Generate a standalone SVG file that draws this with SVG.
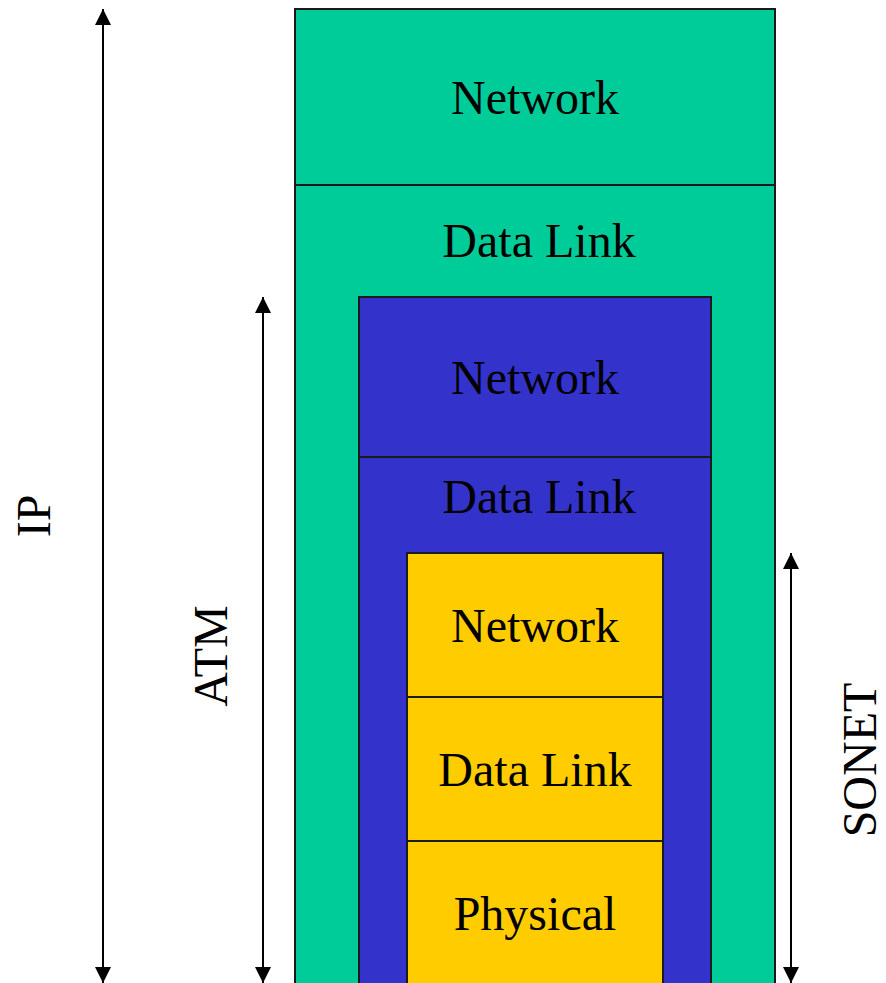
<svg xmlns="http://www.w3.org/2000/svg" width="886" height="983" viewBox="0 0 886 983">
<style>
.box{stroke:#1a1a1a;stroke-width:2}
.g{fill:#00cc99}
.b{fill:#3333cc}
.y{fill:#ffcc00}
.sep{stroke:#1a1a1a;stroke-width:2}
.t{font-family:"Liberation Serif","Times New Roman",serif;font-size:48px;fill:#000;text-anchor:middle}
.arr{stroke:#000;stroke-width:2;fill:none;marker-start:url(#ah);marker-end:url(#ah)}
</style>
<defs>
<marker id="ah" viewBox="0 0 16 16" refX="16" refY="8" markerWidth="16" markerHeight="16" markerUnits="userSpaceOnUse" orient="auto-start-reverse">
<path d="M0,0 L16,8 L0,16 Z" fill="#000"/>
</marker>
</defs>
<g id="ip-stack">
<rect class="box g" x="295" y="9" width="480" height="990"/>
<line class="sep" x1="295" y1="185" x2="775" y2="185"/>
<text class="t" x="535" y="114">Network</text>
<text class="t" x="539" y="257">Data Link</text>
</g>
<g id="atm-stack">
<rect class="box b" x="359" y="297" width="352" height="700"/>
<line class="sep" x1="359" y1="457" x2="711" y2="457"/>
<text class="t" x="535" y="394">Network</text>
<text class="t" x="539" y="513">Data Link</text>
</g>
<g id="sonet-stack">
<rect class="box y" x="407" y="553" width="256" height="444"/>
<line class="sep" x1="407" y1="697" x2="663" y2="697"/>
<line class="sep" x1="407" y1="841" x2="663" y2="841"/>
<text class="t" x="535" y="642">Network</text>
<text class="t" x="535" y="786">Data Link</text>
<text class="t" x="535" y="930">Physical</text>
</g>
<g id="connectors">
<line class="arr" x1="103" y1="9" x2="103" y2="983"/>
<line class="arr" x1="263" y1="297" x2="263" y2="983"/>
<line class="arr" x1="791" y1="553" x2="791" y2="983"/>
</g>
<g id="labels">
<text class="t" transform="translate(50,516) rotate(-90)">IP</text>
<text class="t" transform="translate(227,656) rotate(-90)">ATM</text>
<text class="t" transform="translate(876,760) rotate(-90)">SONET</text>
</g>
</svg>
